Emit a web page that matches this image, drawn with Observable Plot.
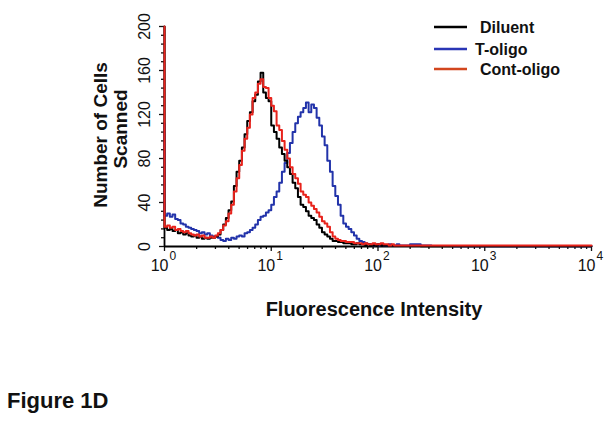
<!DOCTYPE html>
<html><head><meta charset="utf-8">
<script src="https://cdn.jsdelivr.net/npm/d3@7"></script>
<script src="https://cdn.jsdelivr.net/npm/@observablehq/plot@0.6"></script>
<style>
body{margin:0;background:#fff}
#chart{position:relative;width:612px;height:423px}
</style>
</head><body><div id="chart"></div>
<script>
// log10(fluorescence intensity) of each histogram channel
const logIntensity = [
  0, 0.025, 0.05, 0.075, 0.1, 0.125, 0.15, 0.175, 0.2, 0.225, 0.25, 0.275, 0.3, 0.325, 0.35, 0.375, 0.4, 0.425, 0.45, 0.475,
  0.5, 0.525, 0.55, 0.575, 0.6, 0.625, 0.65, 0.675, 0.7, 0.725, 0.75, 0.775, 0.8, 0.825, 0.85, 0.875, 0.9, 0.925, 0.95, 0.975,
  1.0, 1.025, 1.05, 1.075, 1.1, 1.125, 1.15, 1.175, 1.2, 1.225, 1.25, 1.275, 1.3, 1.325, 1.35, 1.375, 1.4, 1.425, 1.45, 1.475,
  1.5, 1.525, 1.55, 1.575, 1.6, 1.625, 1.65, 1.675, 1.7, 1.725, 1.75, 1.775, 1.8, 1.825, 1.85, 1.875, 1.9, 1.925, 1.95, 1.975,
  2.0, 2.025, 2.05, 2.075, 2.1, 2.125, 2.15, 2.175, 2.2,
  2.3, 2.4, 2.5, 2.6, 2.7, 2.8, 2.9, 3.0, 3.1, 3.2, 3.3, 3.4, 3.5, 3.6, 3.7, 3.8, 3.9, 4.0
];
const diluent = [
  200, 17, 15, 16, 14, 15, 12, 13, 11, 12, 10, 9, 10, 8, 9, 7, 8, 7, 8, 8,
  9, 11, 15, 20, 26, 33, 41, 55, 68, 78, 90, 102, 114, 122, 132, 138, 150, 158, 140, 135,
  132, 110, 104, 98, 90, 84, 78, 72, 66, 58, 53, 45, 38, 36, 32, 28, 26, 24, 20, 17,
  13, 11, 9, 7, 5, 5, 4, 4, 3, 3, 3, 2, 2, 3, 2, 2, 1, 2, 1, 1,
  1, 2, 1, 1, 1, 0.5, 1, 0.5, 0.5,
  0.5, 0.5, 0.3, 0.3, 0.3, 0.3, 0.3, 0.3, 0.3, 0.3, 0.3, 0.3, 0.3, 0.3, 0.3, 0.3, 0.3, 0.3
];
const tOligo = [
  112, 28, 30, 27, 29, 25, 24, 21, 20, 18, 17, 16, 15, 14, 12, 13, 11, 12, 10, 9,
  9, 8, 6, 5, 7, 6, 8, 7, 9, 10, 9, 12, 13, 15, 17, 20, 24, 27, 28, 31,
  33, 38, 45, 50, 58, 68, 76, 85, 94, 104, 112, 118, 122, 126, 131, 122, 129, 126, 117, 110,
  100, 92, 78, 68, 55, 46, 38, 28, 21, 18, 16, 13, 10, 7, 5, 4, 3, 2, 2, 1,
  2, 1, 2, 1, 1, 2, 1, 1, 2,
  1, 2, 1, 0.5, 0.5, 0.3, 0.3, 0.3, 0.3, 0.3, 0.3, 0.3, 0.3, 0.3, 0.3, 0.3, 0.3, 0.3
];
const contOligo = [
  200, 18, 19, 17, 18, 15, 16, 14, 13, 14, 12, 11, 10, 11, 9, 10, 8, 8, 9, 8,
  10, 12, 15, 19, 23, 30, 38, 50, 62, 74, 87, 98, 108, 120, 135, 140, 148, 152, 145, 144,
  135, 128, 123, 110, 106, 96, 88, 80, 72, 66, 62, 57, 50, 47, 45, 40, 37, 34, 31, 27,
  23, 21, 18, 13, 9, 7, 6, 5, 5, 4, 4, 4, 3, 3, 3, 2, 3, 2, 2, 3,
  2, 2, 3, 2, 2, 1, 2, 1, 1,
  1, 1, 1, 1, 0.8, 0.8, 0.8, 0.8, 0.8, 0.8, 0.8, 0.8, 0.8, 0.8, 0.8, 0.8, 0.8, 0.8
];
const seriesNames = ["Diluent", "T-oligo", "Cont-oligo"];
const seriesColors = ["#000000", "#2233aa", "#e8231c"];
const legendColors = ["#000000", "#2a35b5", "#d2461e"];

const yMajorTicks = [0, 40, 80, 120, 160, 200];
const yMinorTicks = [8, 16, 24, 32, 48, 56, 64, 72, 88, 96, 104, 112, 128, 136, 144, 152, 168, 176, 184, 192];
const xMajorTicks = [1, 10, 100, 1000, 10000];
const xTickBase = "10";
const xTickExponents = ["0", "1", "2", "3", "4"];
const xMinorTicks = [2, 3, 4, 5, 6, 7, 8, 9, 20, 30, 40, 50, 60, 70, 80, 90,
  200, 300, 400, 500, 600, 700, 800, 900, 2000, 3000, 4000, 5000, 6000, 7000, 8000, 9000];

const FONT = "'Liberation Sans', Arial, Helvetica, sans-serif";
const rowsOf = (vals) => logIntensity.map((L, i) => ({x: Math.pow(10, L), v: vals[i]}));
const drawOrder = [1, 0, 2];
const seriesVals = [diluent, tOligo, contOligo];

const chart = Plot.plot({
  width: 612,
  height: 423,
  marginLeft: 164,
  marginRight: 21,
  marginTop: 26,
  marginBottom: 177,
  style: {fontFamily: FONT, color: "#111", background: "#fff"},
  x: {type: "log", domain: [1, 10000]},
  y: {domain: [0, 200]},
  marks: [
    Plot.axisY(yMinorTicks, {tickSize: 3, fill: "none", label: null, strokeWidth: 1.3}),
    Plot.axisY(yMajorTicks, {tickSize: 5, fill: "none", label: null, strokeWidth: 1.3}),
    Plot.axisX(xMinorTicks, {tickSize: 3, fill: "none", label: null, strokeWidth: 1.3}),
    Plot.axisX(xMajorTicks, {tickSize: 5, fill: "none", label: null, strokeWidth: 1.3}),
    Plot.text(yMajorTicks, {y: d => d, text: d => String(d), frameAnchor: "left", dx: -15,
      rotate: -90, textAnchor: "middle", lineAnchor: "bottom", fontSize: 16, fill: "#111"}),
    Plot.text(xMajorTicks, {x: d => d, text: () => xTickBase, frameAnchor: "bottom", dy: 24, dx: 4,
      textAnchor: "end", fontSize: 16, fill: "#111"}),
    Plot.text(xMajorTicks, {x: d => d, text: (d, i) => xTickExponents[i], frameAnchor: "bottom", dy: 13, dx: 5,
      textAnchor: "start", fontSize: 12, fill: "#111"}),
    Plot.ruleY([0], {x1: 1, x2: 10000, stroke: "#000", strokeWidth: 1.8}),
    Plot.ruleX([1], {y1: 0, y2: 200, stroke: "#000", strokeWidth: 1.8}),
    ...drawOrder.map(k => Plot.line(rowsOf(seriesVals[k]), {
      x: "x", y: "v", stroke: seriesColors[k], strokeWidth: 2, curve: "step-before"
    }))
  ]
});
document.getElementById("chart").appendChild(chart);

const svg = d3.select(chart);
svg.append("text").attr("x", 374).attr("y", 316).attr("text-anchor", "middle")
  .attr("font-family", FONT).attr("font-weight", "bold").attr("font-size", 20).attr("fill", "#111")
  .text("Fluorescence Intensity");
svg.append("text").attr("transform", "translate(107,135) rotate(-90)").attr("text-anchor", "middle")
  .attr("font-family", FONT).attr("font-weight", "bold").attr("font-size", 19).attr("fill", "#111")
  .text("Number of Cells");
svg.append("text").attr("transform", "translate(127,129) rotate(-90)").attr("text-anchor", "middle")
  .attr("font-family", FONT).attr("font-weight", "bold").attr("font-size", 19).attr("fill", "#111")
  .text("Scanned");
svg.append("text").attr("x", 7).attr("y", 408).attr("text-anchor", "start")
  .attr("font-family", FONT).attr("font-weight", "bold").attr("font-size", 22).attr("fill", "#111")
  .text("Figure 1D");

const legendY = [27, 49, 69];
const legendTextX = [480, 475, 480];
seriesNames.forEach((name, i) => {
  svg.append("line").attr("x1", 434).attr("x2", 467).attr("y1", legendY[i]).attr("y2", legendY[i])
    .attr("stroke", legendColors[i]).attr("stroke-width", 2.5);
  svg.append("text").attr("x", legendTextX[i]).attr("y", legendY[i] + 6).attr("text-anchor", "start")
    .attr("font-family", FONT).attr("font-weight", "bold").attr("font-size", 16).attr("fill", "#111")
    .text(name);
});
</script>
</body></html>
